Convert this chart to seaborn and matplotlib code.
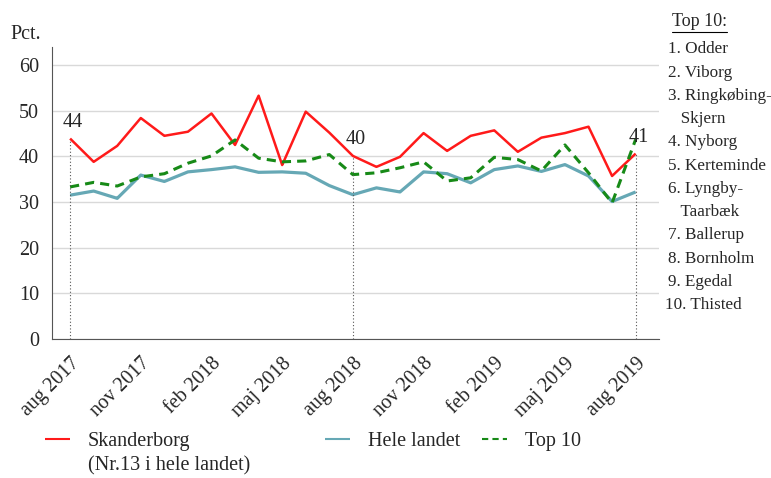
import pandas as pd
import numpy as np
import matplotlib
matplotlib.use("Agg")
import matplotlib.pyplot as plt
import seaborn as sns

# Data: monthly shares (pct.), aug 2017 - aug 2019
months = ["aug 2017", "sep 2017", "okt 2017", "nov 2017", "dec 2017", "jan 2018",
          "feb 2018", "mar 2018", "apr 2018", "maj 2018", "jun 2018", "jul 2018",
          "aug 2018", "sep 2018", "okt 2018", "nov 2018", "dec 2018", "jan 2019",
          "feb 2019", "mar 2019", "apr 2019", "maj 2019", "jun 2019", "jul 2019",
          "aug 2019"]
skanderborg = [43.9, 38.8, 42.3, 48.4, 44.5, 45.4, 49.4, 42.5, 53.3, 38.1, 49.8, 45.2,
               40.1, 37.7, 39.9, 45.1, 41.2, 44.5, 45.7, 41.0, 44.1, 45.1, 46.5, 35.7,
               40.6]
hele_landet = [31.5, 32.4, 30.8, 35.9, 34.5, 36.6, 37.1, 37.7, 36.5, 36.6, 36.3, 33.6,
               31.6, 33.1, 32.2, 36.6, 36.2, 34.2, 37.1, 37.9, 36.7, 38.2, 35.7, 30.1,
               32.2]
top10 = [33.3, 34.3, 33.5, 35.5, 36.2, 38.5, 40.1, 43.6, 39.6, 38.8, 39.0, 40.4,
         36.0, 36.4, 37.5, 38.8, 34.6, 35.3, 39.8, 39.3, 36.8, 42.5, 36.4, 29.8,
         43.7]
series_names = ["Skanderborg", "Hele landet", "Top 10"]
colors = ["#ff1a1a", "#66a8b5", "#178a17"]
labelled_points = [0, 12, 24]
top10_list = ["1. Odder", "2. Viborg", "3. Ringkøbing-", "   Skjern", "4. Nyborg",
              "5. Kerteminde", "6. Lyngby-", "   Taarbæk", "7. Ballerup",
              "8. Bornholm", "9. Egedal", "10. Thisted"]

sns.set_style("white")
plt.rcParams["font.family"] = ["Liberation Serif", "DejaVu Serif"]
FS = 14.5

df = pd.DataFrame({"idx": np.arange(len(months))})
df[series_names[0]] = skanderborg
df[series_names[1]] = hele_landet
df[series_names[2]] = top10
long = df.melt(id_vars="idx", var_name="serie", value_name="pct")

fig = plt.figure(figsize=(7.71, 4.78), dpi=100)
ax = fig.add_axes([0.068, 0.291, 0.787, 0.611])

sns.lineplot(data=long, x="idx", y="pct", hue="serie", style="serie",
             palette=colors, dashes=[(1, 0), (1, 0), (3, 2)],
             hue_order=series_names, style_order=series_names, ax=ax)
for line, lw in zip(ax.lines[:3], [1.8, 2.3, 2.2]):
    line.set_linewidth(lw)

# dotted drop lines with value labels
for i in labelled_points:
    ax.plot([i, i], [0, skanderborg[i]], ls=(0, (1, 2)), color="#555555", lw=0.8)
    ax.text(i + 0.12, skanderborg[i] + 2.6, f"{round(skanderborg[i])}", ha="center",
            va="baseline", fontsize=FS)

ax.set_ylim(0, 64)
ax.set_xlim(-0.75, 25)
ax.set_yticks(range(0, 61, 10))
ax.set_xticks(range(0, len(months), 3))
ax.set_xticklabels(months[::3], rotation=45, ha="right", rotation_mode="anchor")
ax.tick_params(axis="both", labelsize=FS, direction="out", length=6, color="#555555")
ax.tick_params(axis="x", pad=5)
ax.yaxis.grid(True, color="#d9d9d9", lw=1)
ax.set_axisbelow(True)
ax.set_xlabel("")
ax.set_ylabel("")
for s in ["top", "right"]:
    ax.spines[s].set_visible(False)
for s in ["left", "bottom"]:
    ax.spines[s].set_color("#555555")

fig.text(0.014, 0.927, "Pct.", fontsize=FS, va="center")

# legend: one entry each, placed below the plot
handles, labels = ax.get_legend_handles_labels()
ax.get_legend().remove()
for h, lab, x in zip(handles, labels, [0.058, 0.4215, 0.625]):
    fig.legend([h], [lab], loc="center left", bbox_to_anchor=(x, 0.0774),
               frameon=False, fontsize=FS, handlelength=1.25, handletextpad=0.9,
               borderpad=0, borderaxespad=0)
fig.text(0.114, 0.025, "(Nr.13 i hele landet)", fontsize=FS, va="center")

# top 10 list on the right
fig.text(0.871, 0.954, "Top 10:", fontsize=13, va="center")
fig.add_artist(plt.Line2D([0.871, 0.943], [0.934, 0.934], color="black", lw=0.8))
for k, name in enumerate(top10_list):
    x = 0.862 if name.startswith("10") else 0.866
    fig.text(x, 0.897 - k * 0.0487, name, fontsize=12.3, va="center")

fig.savefig("out.png", dpi=100)
